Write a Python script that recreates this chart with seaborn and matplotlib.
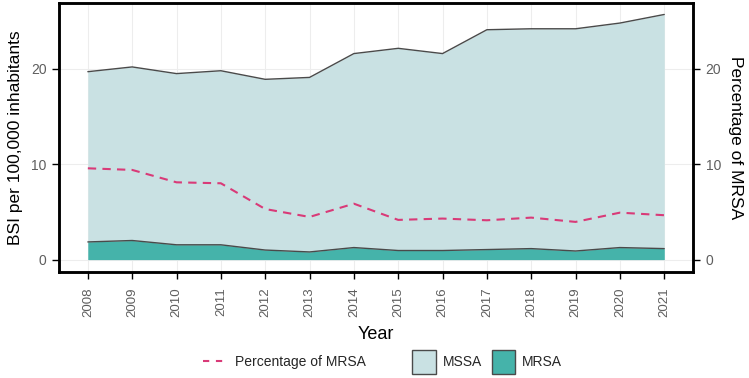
import numpy as np
import pandas as pd
import matplotlib
matplotlib.use("Agg")
import matplotlib.pyplot as plt
import seaborn as sns
from matplotlib.lines import Line2D
from matplotlib.patches import Patch

years = [2008, 2009, 2010, 2011, 2012, 2013, 2014, 2015, 2016, 2017, 2018, 2019, 2020, 2021]
total_bsi = [19.7, 20.2, 19.5, 19.8, 18.9, 19.1, 21.6, 22.15, 21.6, 24.1, 24.2, 24.2, 24.8, 25.7]
mrsa_bsi = [1.85, 2.0, 1.55, 1.55, 1.0, 0.8, 1.26, 0.95, 0.95, 1.05, 1.15, 0.9, 1.26, 1.15]
pct_mrsa = [9.57, 9.4, 8.1, 8.0, 5.3, 4.47, 5.86, 4.16, 4.3, 4.12, 4.4, 3.95, 4.92, 4.65]

df = pd.DataFrame({"Year": years, "Total": total_bsi, "MRSA": mrsa_bsi, "Pct": pct_mrsa})

sns.set_theme(style="white")
plt.rcParams['font.family'] = ['Liberation Sans', 'DejaVu Sans']

C_MSSA = "#C9E1E3"
C_MRSA = "#45B3AA"
C_PCT = "#D93A78"
C_EDGE = "#4A4A4A"
C_TICK = "#5E5E5E"
C_GRID = "#EDEDED"

fig = plt.figure(figsize=(7.49, 3.78), dpi=100)
ax = fig.add_axes([0.0788, 0.281, 0.8465, 0.711])

ax.fill_between(df["Year"], 0, df["Total"], color=C_MSSA, lw=0, zorder=2)
ax.fill_between(df["Year"], 0, df["MRSA"], color=C_MRSA, lw=0, zorder=3)
sns.lineplot(data=df, x="Year", y="Total", ax=ax, color=C_EDGE, lw=1.0, zorder=4)
sns.lineplot(data=df, x="Year", y="MRSA", ax=ax, color=C_EDGE, lw=1.0, zorder=4)

ylim = (-1.28, 26.9)
xlim = (2007.35, 2021.65)
ax.set_xlim(*xlim)
ax.set_ylim(*ylim)
ax.set_xticks(years)
ax.set_xticklabels([str(y) for y in years], rotation=90, color=C_TICK, fontsize=9.5)
ax.set_yticks([0, 10, 20])
ax.set_yticklabels(["0", "10", "20"], color=C_TICK, fontsize=10)
ax.grid(True, color=C_GRID, lw=0.8, zorder=0)
ax.set_axisbelow(True)
ax.tick_params(axis='x', which='major', length=5, width=1.0, color="black",
               direction='out', bottom=True, pad=6)
ax.tick_params(axis='y', which='major', length=5, width=1.0, color="black",
               direction='out', left=True, pad=4)
ax.set_xlabel("Year", fontsize=13, color="black", labelpad=7)
ax.set_ylabel("BSI per 100,000 inhabitants", fontsize=12.5, color="black", labelpad=6)
for s in ax.spines.values():
    s.set_linewidth(1.8)
    s.set_color("black")

ax2 = ax.twinx()
sns.lineplot(data=df, x="Year", y="Pct", ax=ax2, color=C_PCT, lw=1.5, zorder=5)
ax2.lines[0].set_dashes([4, 3])
ax2.set_ylim(*ylim)
ax2.set_xlim(*xlim)
ax2.set_yticks([0, 10, 20])
ax2.set_yticklabels(["0", "10", "20"], color=C_TICK, fontsize=10)
ax2.tick_params(axis='y', length=5, width=1.0, color="black", direction='out', right=True, pad=4)
ax2.set_ylabel("Percentage of MRSA", fontsize=12.5, color="black", rotation=270, labelpad=16)
for s in ax2.spines.values():
    s.set_linewidth(1.8)
    s.set_color("black")

leg1 = fig.legend([Line2D([0], [0], color=C_PCT, lw=1.5, dashes=[3, 3.2])],
                  ["Percentage of MRSA"], loc="center left",
                  bbox_to_anchor=(203 / 749, 1 - 362 / 378), frameon=False,
                  fontsize=10, handlelength=1.6, handletextpad=0.7,
                  borderpad=0, borderaxespad=0)
leg2 = fig.legend([Patch(facecolor=C_MSSA, edgecolor=C_EDGE, lw=1.0),
                   Patch(facecolor=C_MRSA, edgecolor=C_EDGE, lw=1.0)],
                  ["MSSA", "MRSA"], loc="center left",
                  bbox_to_anchor=(412 / 749, 1 - 362 / 378), frameon=False, ncol=2,
                  fontsize=10, handlelength=1.7, handleheight=2.2, handletextpad=0.5,
                  columnspacing=0.7, borderpad=0, borderaxespad=0)

fig.savefig("out.png", dpi=100)
